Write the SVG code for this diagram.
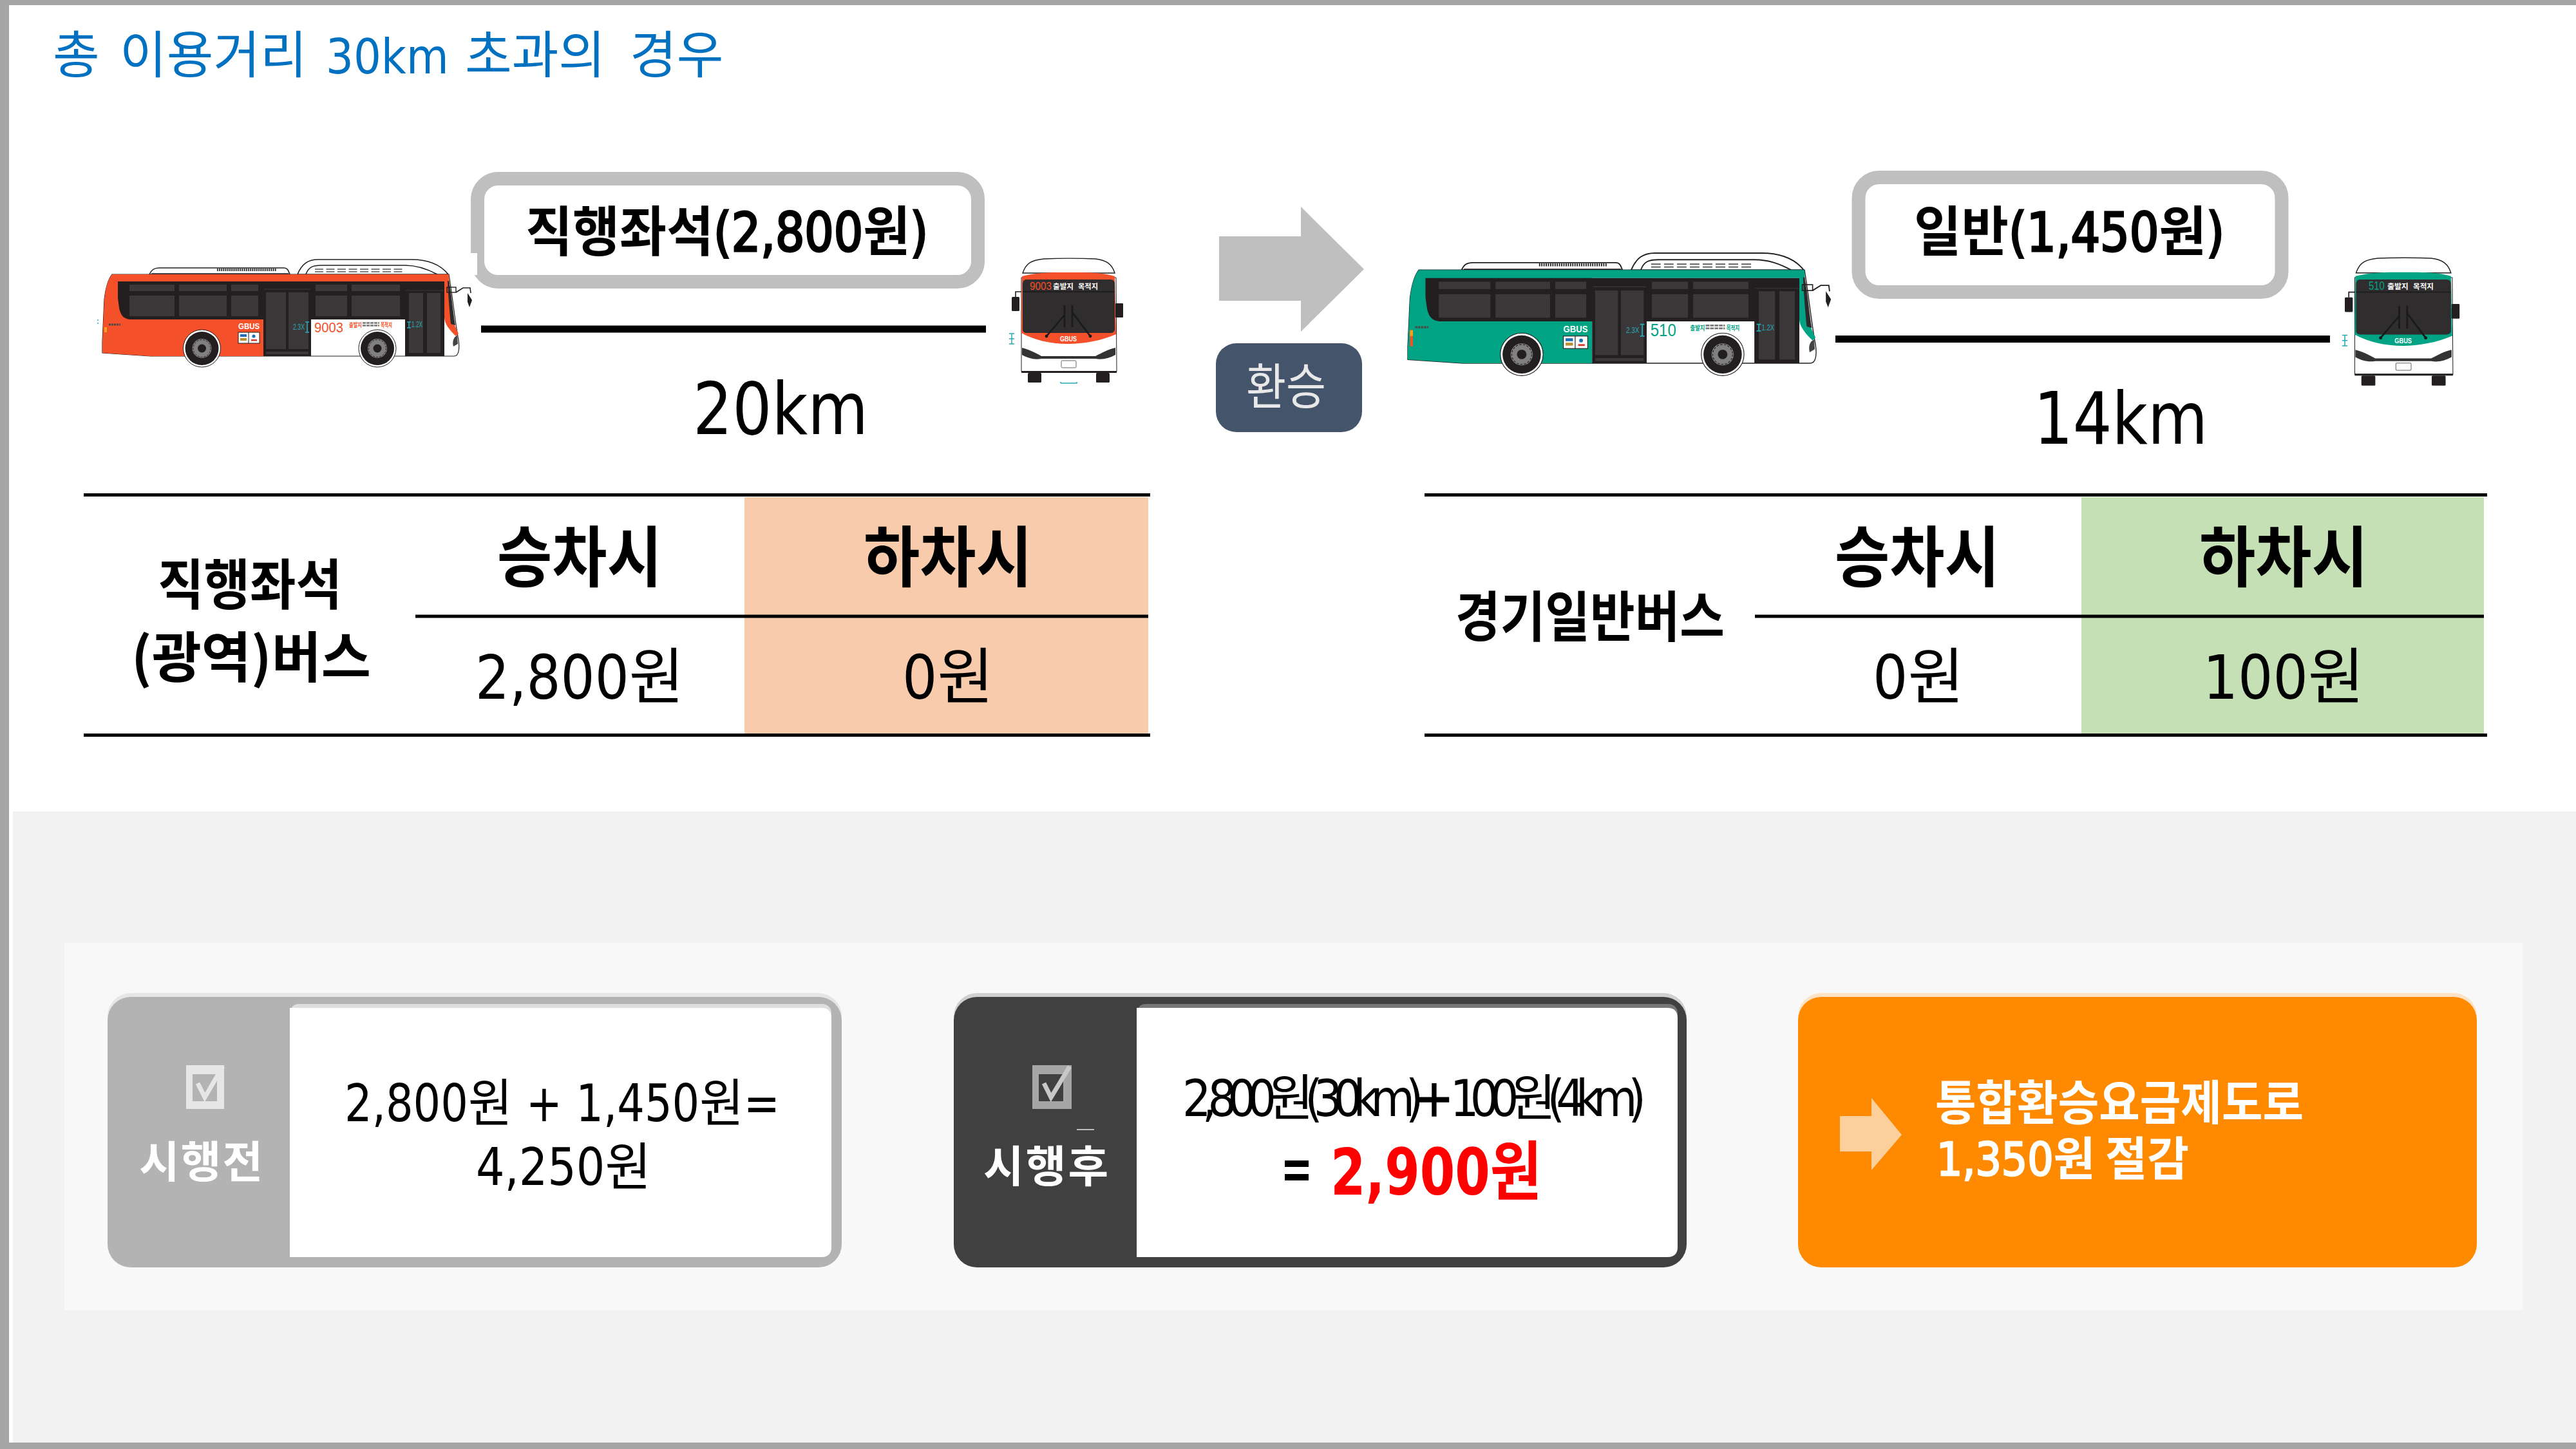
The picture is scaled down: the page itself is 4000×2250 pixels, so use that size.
<svg xmlns="http://www.w3.org/2000/svg" width="4000" height="2250" viewBox="0 0 4000 2250">
<style>
text{font-family:"DejaVu Sans","Noto Sans CJK KR",sans-serif;font-stretch:condensed;fill:#000}
.k{font-family:"Noto Sans CJK KR","DejaVu Sans",sans-serif;font-stretch:normal}
.m{text-anchor:middle}
.b{font-weight:700}
.fb{font-weight:400;stroke:#000;stroke-width:3}
.fw{font-weight:400;stroke:#fff;stroke-width:2.5}
.box{fill:#fff;stroke:#bfbfbf;stroke-width:21}
.rule{stroke:#000;stroke-width:5;fill:none}
.thick{stroke:#000;stroke-width:11;fill:none}
.hd{font-size:103px;font-weight:700}
.val{font-size:95px}
.lab{font-size:85px;font-weight:700}
.w{fill:#fff}
.ln{fill:none;stroke:#231f20;stroke-width:1.6}
.dk{fill:#231f20}
.win{fill:#3a3839}
.teal{stroke:#29a9b5;stroke-width:1.5;fill:none}
.tt{fill:#29a9b5;font-size:12px;font-family:"Liberation Sans",sans-serif}
</style>
<defs>
<g id="side-bus">
<path d="M15,23H538C544,60 548,100 553,125C555,140 553,150 546,150H75L0,145V128L3,62C5,45 8,32 15,23Z" fill="#fff" stroke="#231f20" stroke-width="1.2"/>
<path d="M73,23C76,16 80,13 88,13H282C288,13 289,18 291,23Z" class="ln" style="fill:#fff"/>
<path d="M76,22H289" class="ln"/>
<path d="M178,16H271" style="fill:none;stroke:#231f20;stroke-width:4;stroke-dasharray:1.6 1.4"/>
<path d="M303,23C310,6 320,0 335,0H480C505,0 525,8 537,23Z" class="ln" style="fill:#fff"/>
<path d="M316,23C320,12 326,9 340,9H470C490,9 505,15 520,23" class="ln"/>
<path d="M330,15H467M330,19H467" style="fill:none;stroke:#555;stroke-width:1.6;stroke-dasharray:13 4.5"/>
<path d="M15,23H538L540,60C541,85 545,100 553,115L549,119C537,108 531,98 531,90V34H250V150H75L0,145V128L3,62C5,45 8,32 15,23Z" fill="currentColor"/>
<path d="M24,34H531V150H470V93H324V150H250V93H45C32,93 28,85 26,75L24,60Z" class="dk"/>
<path d="M538,33C542,50 544,80 548,102L541,100C539,80 537,55 536,33Z" fill="#2b2b2b"/>
<path d="M551,118C545,120 543,128 545,135L552,131Z" fill="#444"/>
<rect x="42" y="39" width="70" height="10" class="win"/><rect x="119" y="39" width="74" height="10" class="win"/><rect x="200" y="39" width="42" height="10" class="win"/>
<rect x="42" y="56" width="70" height="32" class="win"/><rect x="119" y="56" width="74" height="32" class="win"/><rect x="200" y="56" width="42" height="32" class="win"/>
<rect x="331" y="39" width="49" height="10" class="win"/><rect x="387" y="39" width="75" height="10" class="win"/>
<rect x="331" y="56" width="49" height="32" class="win"/><rect x="387" y="56" width="75" height="32" class="win"/>
<rect x="254" y="51" width="31" height="88" class="win"/><rect x="289" y="51" width="31" height="88" class="win"/><rect x="254" y="143" width="66" height="4" class="win"/>
<rect x="476" y="52" width="22" height="93" class="win"/><rect x="504" y="52" width="21" height="93" class="win"/>
<path d="M251,46H323M471,48H530" stroke="#3a3839" stroke-width="1" fill="none"/>
<g id="wheel-a"><circle cx="154.500" cy="138" r="29" fill="#fff" stroke="#231f20" stroke-width="1"/><circle cx="154.500" cy="138" r="26" class="dk"/><circle cx="154.500" cy="138" r="15" fill="#808080"/><circle cx="154.500" cy="138" r="13.500" fill="none" stroke="#231f20" stroke-width="1" stroke-dasharray="3 2"/><circle cx="154.500" cy="138" r="6.500" class="dk"/></g>
<g id="wheel-b"><circle cx="427" cy="138" r="29" fill="#fff" stroke="#231f20" stroke-width="1"/><circle cx="427" cy="138" r="26" class="dk"/><circle cx="427" cy="138" r="15" fill="#808080"/><circle cx="427" cy="138" r="13.500" fill="none" stroke="#231f20" stroke-width="1" stroke-dasharray="3 2"/><circle cx="427" cy="138" r="6.500" class="dk"/></g>
<rect x="535" y="43" width="14" height="8" fill="none" stroke="#231f20" stroke-width="1.400"/>
<path d="M549,51L560,44H571L572,52" class="ln"/>
<path d="M567,52L574,63L570,74L567,66Z" class="dk"/>
<rect x="3" y="105" width="4" height="22" fill="#e8562a"/><rect x="3" y="105" width="4" height="8" fill="#f7a11a"/>
<rect x="211" y="113" width="33" height="17" fill="#fff" stroke="#231f20" stroke-width="1"/>
<path d="M227,113V130" stroke="#231f20" stroke-width="1"/>
<rect x="214" y="116" width="10" height="4" fill="#1f6fb5"/><rect x="214" y="122" width="10" height="4" fill="#b7912e"/>
<circle cx="235" cy="119" r="2.600" fill="#1f6fb5"/><rect x="231" y="124" width="9" height="2.500" fill="#d8392b"/>
<text x="211" y="108" class="b w" style="font-size:13px;font-family:'Liberation Sans',sans-serif" textLength="33" lengthAdjust="spacingAndGlyphs">GBUS</text>
<path d="M318,97V113M315,97H321M315,113H321M476,97V106M473,97H479M473,106H479" class="teal"/>
<text x="296" y="109" class="tt" textLength="18" lengthAdjust="spacingAndGlyphs">2.3X</text>
<text x="480" y="105" class="tt" textLength="17" lengthAdjust="spacingAndGlyphs">1.2X</text>
<path d="M10,101H28" stroke="#4a4a4a" stroke-width="3" stroke-dasharray="3 1" fill="none"/>
<path d="M404,98.500H430M404,102.500H430" stroke="#777" stroke-width="2.400" stroke-dasharray="5 1" fill="none"/>
</g>
<g id="front-bus">
<path d="M17,23C22,8 30,3 50,1C70,0 110,0 130,1C148,3 156,10 160,23Z" fill="#fff" stroke="#231f20" stroke-width="1.400"/>
<path d="M15,30H162L163,176H15Z" fill="#fff" stroke="#231f20" stroke-width="1"/>
<path d="M15,175H163V178H15Z" fill="#231f20"/>
<path d="M16,28C40,22 60,22 88,22C120,22 140,22 160,28L162,118C140,128 110,133 88,133C60,133 35,127 15,116Z" fill="currentColor"/>
<path d="M23,33H153C158,33 160,36 160,40V110C160,114 157,116 153,116H24C19,116 17,114 17,110V40C17,36 19,33 23,33Z" fill="#2f2d2e"/>
<path d="M17,52H160" stroke="#1a1a1a" stroke-width="1.400"/>
<path d="M82,73V107M94,73V107M82,88L54,121M94,84L122,121" stroke="#1a1a1a" stroke-width="2.600" fill="none"/>
<circle cx="54" cy="121" r="2.400" fill="#1a1a1a"/><circle cx="122" cy="121" r="2.400" fill="#1a1a1a"/>
<path d="M16,139C25,141 38,147 46,152H130C140,147 150,141 161,139V150C150,156 140,158 130,156H46C35,158 25,155 16,150Z" fill="#333"/>
<rect x="77" y="159" width="23" height="11" rx="1.500" fill="#fff" stroke="#666" stroke-width="1"/>
<rect x="25" y="178" width="21" height="15" rx="1.500" class="dk"/><rect x="131" y="178" width="21" height="15" rx="1.500" class="dk"/>
<rect x="0" y="60" width="12" height="22" rx="1.500" class="dk"/><path d="M6,60V52H15" fill="none" stroke="#231f20" stroke-width="1.600"/>
<rect x="161" y="70" width="12" height="22" rx="1" class="dk"/>
<path d="M0,117V133M-4,117H4M-4,125H4M-4,133H4" class="teal"/>
<text x="88" y="129" class="m b w" style="font-size:10px;font-family:'Liberation Sans',sans-serif" textLength="26" lengthAdjust="spacingAndGlyphs">GBUS</text>
</g>
</defs>
<rect width="4000" height="2250" fill="#fff"/>
<rect id="panel" x="20" y="1260" width="3980" height="980" fill="#f2f2f2"/>
<rect id="inner-panel" x="100" y="1464" width="3818" height="570" fill="#f8f8f8"/>
<path id="frame" d="M0,0H4000V8H14V2240H4000V2250H0Z" fill="#a6a6a6"/>
<text id="title" y="114" style="font-size:79px;fill:#0070c0"><tspan x="82" class="k">총 </tspan><tspan x="186" class="k">이용거리 </tspan><tspan x="506" style="font-size:75px">30km </tspan><tspan x="722" class="k">초과의 </tspan><tspan x="978" class="k">경우</tspan></text>
<g id="connectors">
<path class="thick" d="M747,511H1531"/>
<path class="thick" d="M2850,526.500H3618"/>
</g>
<g id="label-direct">
<rect class="box" x="741.500" y="277.500" width="777" height="160" rx="32"/>
<text x="816" y="390" class="b" style="font-size:84px" textLength="625" lengthAdjust="spacingAndGlyphs"><tspan class="k">직행좌석</tspan><tspan class="fb">(2,800</tspan><tspan class="k">원</tspan><tspan class="fb">)</tspan></text>
</g>
<g id="label-local">
<rect class="box" x="2886" y="275.500" width="657" height="178" rx="32"/>
<text x="2972" y="390" class="b" style="font-size:84px" textLength="482" lengthAdjust="spacingAndGlyphs"><tspan class="k">일반</tspan><tspan class="fb">(1,450</tspan><tspan class="k">원</tspan><tspan class="fb">)</tspan></text>
</g>
<g id="bus-red-side" transform="translate(159,403)">
<rect x="572" y="-10" width="10" height="34" fill="#fff"/>
<use href="#side-bus" style="color:#f4502a"/>
<path d="M-7,93V95M-7,98V100" class="teal"/>
<text x="329" y="113" style="font-size:22px;fill:#f4502a;font-family:'Liberation Sans',sans-serif" textLength="45" lengthAdjust="spacingAndGlyphs">9003</text>
<text x="383" y="105" class="k b" style="font-size:9px;fill:#f4502a" textLength="20" lengthAdjust="spacingAndGlyphs">출발지</text>
<text x="432" y="105" class="k b" style="font-size:9px;fill:#f4502a" textLength="18" lengthAdjust="spacingAndGlyphs">목적지</text>
</g>
<g id="bus-red-front" transform="translate(1571,401)">
<use href="#front-bus" style="color:#f4502a"/>
<text x="28" y="49" style="font-size:17px;fill:#f4502a;font-family:'Liberation Sans',sans-serif" textLength="34" lengthAdjust="spacingAndGlyphs">9003</text>
<text x="64" y="48" class="k b w" style="font-size:11.500px" textLength="32" lengthAdjust="spacingAndGlyphs">출발지</text>
<text x="103" y="48" class="k b w" style="font-size:11.500px" textLength="31" lengthAdjust="spacingAndGlyphs">목적지</text>
<path d="M76,194V192M76,194H101V192" class="teal"/>
</g>
<g id="bus-green-side" transform="translate(2186,393) scale(1.145,1.14)">
<use href="#side-bus" style="color:#00a384"/>
<text x="329" y="113" style="font-size:24px;fill:#00a384;font-family:'Liberation Sans',sans-serif" textLength="35" lengthAdjust="spacingAndGlyphs">510</text>
<text x="383" y="105" class="k b" style="font-size:9px;fill:#00a384" textLength="20" lengthAdjust="spacingAndGlyphs">출발지</text>
<text x="432" y="105" class="k b" style="font-size:9px;fill:#00a384" textLength="18" lengthAdjust="spacingAndGlyphs">목적지</text>
</g>
<g id="bus-green-front" transform="translate(3641,400) scale(1.03)">
<use href="#front-bus" style="color:#00a384"/>
<text x="36" y="49" style="font-size:17px;fill:#00a384;font-family:'Liberation Sans',sans-serif" textLength="24" lengthAdjust="spacingAndGlyphs">510</text>
<text x="64" y="48" class="k b w" style="font-size:11.500px" textLength="32" lengthAdjust="spacingAndGlyphs">출발지</text>
<text x="103" y="48" class="k b w" style="font-size:11.500px" textLength="31" lengthAdjust="spacingAndGlyphs">목적지</text>
</g>
<g id="dist-20"><text x="1212" y="674" class="m" style="font-size:112px" textLength="272" lengthAdjust="spacingAndGlyphs">20km</text></g>
<g id="dist-14"><text x="3293" y="689" class="m" style="font-size:112px" textLength="270" lengthAdjust="spacingAndGlyphs">14km</text></g>
<g id="transfer-arrow"><path d="M1893,367H2020V321L2118,418L2020,515V467H1893Z" fill="#bfbfbf"/></g>
<g id="transfer-badge">
<rect x="1888" y="533" width="227" height="138" rx="32" fill="#44546a"/>
<text x="1997" y="628" class="k m" style="font-size:76px;fill:#e8e8e8" textLength="124" lengthAdjust="spacingAndGlyphs">환승</text>
</g>
<g id="table-left">
<rect x="1156" y="772" width="627" height="368" fill="#f8cbad"/>
<path class="rule" d="M130,768.500H1786M645,957H1783M130,1141.500H1786"/>
<text x="900" y="903" class="k m hd" textLength="256" lengthAdjust="spacingAndGlyphs">승차시</text>
<text x="1472" y="903" class="k m hd" textLength="262" lengthAdjust="spacingAndGlyphs">하차시</text>
<text x="900" y="1085" class="m val" textLength="324" lengthAdjust="spacingAndGlyphs">2,800원</text>
<text x="1472" y="1085" class="m val">0원</text>
<text x="388" y="939" class="k m lab" textLength="286" lengthAdjust="spacingAndGlyphs">직행좌석</text>
<text x="390" y="1052" class="k m lab" textLength="372" lengthAdjust="spacingAndGlyphs">(광역)버스</text>
</g>
<g id="table-right">
<rect x="3232" y="772" width="625" height="368" fill="#c5e0b4"/>
<path class="rule" d="M2212,768.500H3862M2725,957H3857M2212,1141.500H3862"/>
<text x="2977" y="903" class="k m hd" textLength="256" lengthAdjust="spacingAndGlyphs">승차시</text>
<text x="3546" y="903" class="k m hd" textLength="262" lengthAdjust="spacingAndGlyphs">하차시</text>
<text x="2979" y="1085" class="m val">0원</text>
<text x="3546" y="1085" class="m val">100원</text>
<text x="2469" y="989" class="k m lab" textLength="418" lengthAdjust="spacingAndGlyphs">경기일반버스</text>
</g>
<g id="card-before">
<rect x="167" y="1542" width="1140" height="426" rx="36" fill="#e6e6e6"/>
<rect x="167" y="1548" width="1140" height="420" rx="36" fill="#b3b3b3"/>
<rect x="450" y="1559" width="841" height="393" rx="14" fill="#dedede"/>
<path d="M450,1565H1275Q1291,1565 1291,1581V1936Q1291,1952 1275,1952H450Z" fill="#fff"/>
<rect x="289" y="1654" width="59" height="68" fill="#e6e6e6"/>
<rect x="299" y="1668" width="38" height="42" fill="#b3b3b3"/>
<path d="M307,1682L318,1704L346,1656" fill="none" stroke="#e6e6e6" stroke-width="7"/>
<text x="312" y="1829" class="k m b w" style="font-size:68px" textLength="192">시행전</text>
<text x="873" y="1741" class="m" style="font-size:80px" textLength="676" lengthAdjust="spacingAndGlyphs">2,800원 + 1,450원=</text>
<text x="875" y="1840" class="m" style="font-size:80px" textLength="272" lengthAdjust="spacingAndGlyphs">4,250원</text>
</g>
<g id="card-after">
<rect x="1481" y="1542" width="1138" height="426" rx="36" fill="#d0d0d0"/>
<rect x="1481" y="1548" width="1138" height="420" rx="36" fill="#404040"/>
<rect x="1765" y="1559" width="840" height="393" rx="14" fill="#777"/>
<path d="M1765,1565H2589Q2605,1565 2605,1581V1936Q2605,1952 2589,1952H1765Z" fill="#fff"/>
<rect x="1603" y="1654" width="61" height="68" fill="#a6a6a6"/>
<rect x="1613" y="1668" width="38" height="42" fill="#404040"/>
<path d="M1621,1682L1632,1704L1661,1656" fill="none" stroke="#c8c8c8" stroke-width="7"/>
<rect x="1672" y="1753" width="27" height="2" fill="#bbb"/>
<text x="1624" y="1836" class="k m b w" style="font-size:68px" textLength="194">시행후</text>
<text x="1836" y="1733" style="font-size:78px" textLength="720">2,800원(30km)<tspan style="font-size:80px;font-weight:400;stroke:#000;stroke-width:1.500">+</tspan> 100원(4km)</text>
<rect x="1995" y="1802" width="37" height="10" fill="#000"/><rect x="1995" y="1823" width="37" height="10" fill="#000"/>
<text x="2066" y="1855" class="b" style="font-size:100px;fill:#f00" textLength="328" lengthAdjust="spacingAndGlyphs">2,900원</text>
</g>
<g id="card-saving">
<rect x="2792" y="1542" width="1054" height="426" rx="36" fill="#fde3c4"/>
<rect x="2792" y="1548" width="1054" height="420" rx="36" fill="#ff8a00"/>
<path d="M2857,1733H2906V1705L2953,1762L2906,1817V1788H2857Z" fill="#fdd09b"/>
<text x="3005" y="1739" class="k b w" style="font-size:74px" textLength="572" lengthAdjust="spacingAndGlyphs">통합환승요금제도로</text>
<text x="3007" y="1825" class="b w" style="font-size:72px" textLength="392" lengthAdjust="spacingAndGlyphs"><tspan class="fw">1,350</tspan><tspan class="k">원 절감</tspan></text>
</g>
</svg>
